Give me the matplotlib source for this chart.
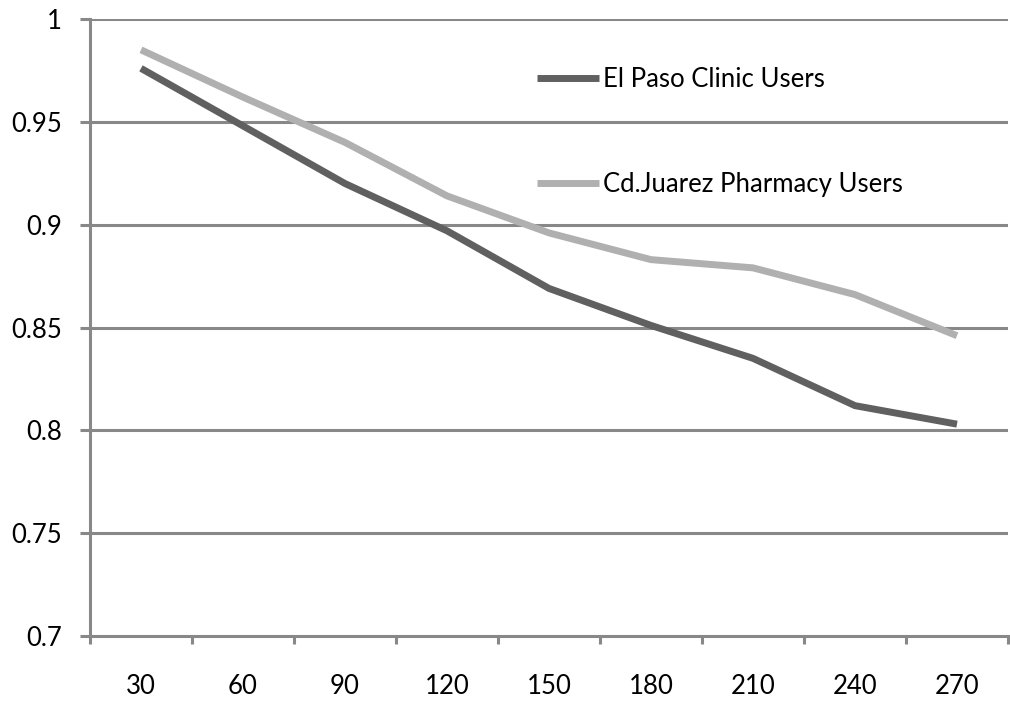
import numpy as np
import matplotlib
matplotlib.use("Agg")
import matplotlib.pyplot as plt

plt.rcParams['font.family'] = ['Lato', 'DejaVu Sans']

days = ["30", "60", "90", "120", "150", "180", "210", "240", "270"]
el_paso = [0.976, 0.948, 0.920, 0.897, 0.869, 0.851, 0.835, 0.812, 0.803]
juarez = [0.985, 0.962, 0.940, 0.914, 0.896, 0.883, 0.879, 0.866, 0.846]

fig = plt.figure(figsize=(10.1, 7.02), dpi=100)
ax = fig.add_axes([90 / 1010, 1 - 636 / 702, 918 / 1010, 617 / 702])

grid_col = "#888888"
fs = 18.5
x = np.arange(len(days))
ax.plot(x, el_paso, color="#606060", lw=5, solid_capstyle="butt", label="El Paso Clinic Users", zorder=3)
ax.plot(x, juarez, color="#b0b0b0", lw=5, solid_capstyle="butt", label="Cd.Juarez Pharmacy Users", zorder=3)

ax.set_xlim(-0.5, len(days) - 0.5)
ax.set_ylim(0.7, 1.0)
yt = [0.7, 0.75, 0.8, 0.85, 0.9, 0.95, 1.0]
ax.set_yticks(yt)
ax.set_yticklabels(["0.7", "0.75", "0.8", "0.85", "0.9", "0.95", "1"])
ax.set_xticks(x)
ax.set_xticklabels(days)
ax.set_xticks(np.arange(len(days) + 1) - 0.5, minor=True)

for y in yt[1:]:
    ax.axhline(y, color=grid_col, lw=2.2, zorder=1)

for s in ["top", "right"]:
    ax.spines[s].set_visible(False)
for s in ["left", "bottom"]:
    ax.spines[s].set_color(grid_col)
    ax.spines[s].set_linewidth(2.2)

ax.tick_params(axis="x", which="major", length=0, pad=27, labelsize=fs)
ax.tick_params(axis="x", which="minor", length=6, width=2.2, color=grid_col, direction="out")
ax.tick_params(axis="y", length=7.2, width=2.2, color=grid_col, pad=13, labelsize=fs)

leg = ax.legend(loc="upper left", bbox_to_anchor=(0.487, 0.922), frameon=False,
                fontsize=fs, handlelength=2.4, handletextpad=0.15, labelspacing=3.1,
                borderpad=0, borderaxespad=0)

fig.savefig("out.png", dpi=100)
